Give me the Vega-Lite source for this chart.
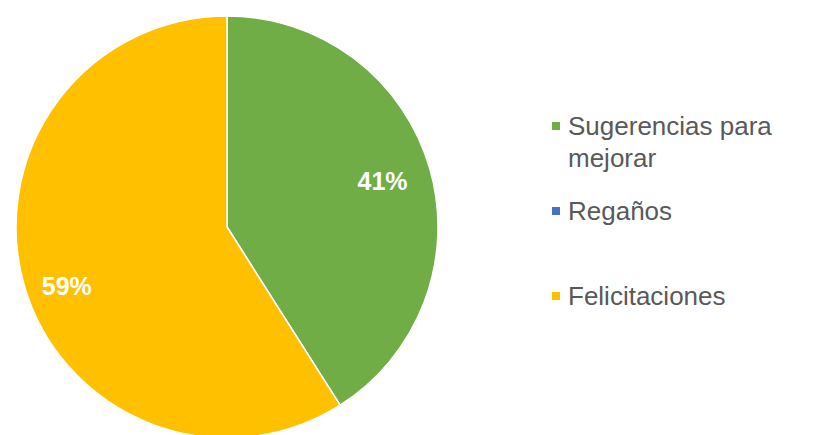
{
  "$schema": "https://vega.github.io/schema/vega-lite/v6.json",
  "autosize": {"type": "none"},
  "width": 454,
  "height": 416,
  "padding": {"left": 0, "top": 19, "right": 366, "bottom": 0},
  "background": "white",
  "data": {
    "values": [
      {"categoria": "Sugerencias para mejorar", "valor": 41, "orden": 1, "etiqueta": "41%"},
      {"categoria": "Regaños", "valor": 0, "orden": 2, "etiqueta": "0%"},
      {"categoria": "Felicitaciones", "valor": 59, "orden": 3, "etiqueta": "59%"}
    ]
  },
  "encoding": {
    "theta": {"field": "valor", "type": "quantitative", "stack": true},
    "order": {"field": "orden", "type": "quantitative"},
    "color": {
      "field": "categoria",
      "type": "nominal",
      "scale": {
        "domain": ["Sugerencias para mejorar", "Regaños", "Felicitaciones"],
        "range": ["#70AD47", "#4472C4", "#FFC000"]
      },
      "legend": {
        "title": null,
        "orient": "none",
        "legendX": 543,
        "legendY": 103,
        "labelFont": "Liberation Sans",
        "labelFontSize": 26,
        "labelColor": "#595959",
        "symbolType": "M-1,-3.25L1,-3.25L1,-1.25L-1,-1.25Z",
        "symbolSize": 64,
        "symbolStrokeWidth": 0,
        "labelBaseline": "alphabetic",
        "labelOffset": -1,
        "rowPadding": 27,
        "labelLimit": 400,
        "labelExpr": "datum.label == 'Sugerencias para mejorar' ? ['Sugerencias para', 'mejorar'] : [datum.label, ' ']"
      }
    }
  },
  "layer": [
    {
      "mark": {"type": "arc", "outerRadius": 211, "stroke": "white", "strokeWidth": 1.5}
    },
    {
      "mark": {"type": "text", "radius": 162, "font": "Liberation Sans", "fontSize": 25, "fontWeight": "bold"},
      "encoding": {
        "text": {"condition": {"test": "datum.categoria == 'Sugerencias para mejorar'", "field": "etiqueta"}, "value": ""},
        "color": {"value": "white"}
      }
    },
    {
      "mark": {"type": "text", "radius": 170, "dx": 3, "dy": 13, "font": "Liberation Sans", "fontSize": 25, "fontWeight": "bold"},
      "encoding": {
        "text": {"condition": {"test": "datum.categoria == 'Felicitaciones'", "field": "etiqueta"}, "value": ""},
        "color": {"value": "white"}
      }
    }
  ],
  "config": {
    "view": {"stroke": null},
    "style": {"guide-label": {"lineHeight": 32}}
  }
}
